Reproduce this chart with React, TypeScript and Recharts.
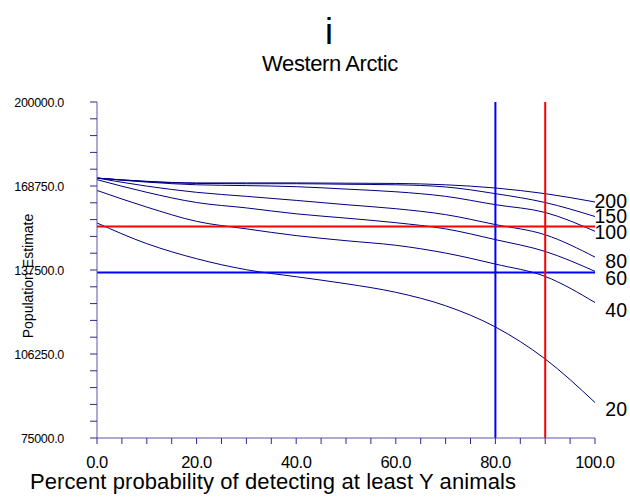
import React from 'react';
import { LineChart, Line, XAxis, YAxis, ReferenceLine, LabelList } from 'recharts';

const probability = [0, 10, 20, 30, 40, 50, 60, 70, 80, 90, 100];

const y20 = [155000, 147300, 141700, 137600, 135000, 132400, 129200, 124200, 116300, 104400, 88200];
const y40 = [167100, 160900, 155600, 152800, 150300, 148400, 146700, 143800, 139700, 135100, 125400];
const y60 = [171100, 166400, 162600, 160600, 158400, 156800, 155100, 152800, 148800, 144400, 137000];
const y80 = [171700, 168700, 166400, 164900, 163400, 161800, 160300, 158100, 154400, 150600, 142300];
const y100 = [171700, 170200, 169200, 168900, 168500, 167600, 166600, 164900, 161800, 158900, 151900];
const y150 = [171700, 170400, 169700, 169600, 169600, 169400, 169200, 168400, 165900, 162600, 157400];
const y200 = [171700, 170500, 169900, 169900, 169900, 169800, 169700, 169200, 168000, 165900, 162800];

const seriesNames = ['20', '40', '60', '80', '100', '150', '200'];
const seriesValues = [y20, y40, y60, y80, y100, y150, y200];

const redLevel = 153700;
const blueLevel = 136600;
const blueProbability = 80;
const redProbability = 90;

const yTicks = [
  75000, 81250, 87500, 93750, 100000, 106250, 112500, 118750, 125000, 131250, 137500,
  143750, 150000, 156250, 162500, 168750, 175000, 181250, 187500, 193750, 200000,
];
const yLabelled = [75000, 106250, 137500, 168750, 200000];
const xTicks = [0, 5, 10, 15, 20, 25, 30, 35, 40, 45, 50, 55, 60, 65, 70, 75, 80, 85, 90, 95, 100];
const xLabelled = [0, 20, 40, 60, 80, 100];

// vertical nudge of each end label, px
const labelNudge: Record<string, number> = {
  '20': 6, '40': 7, '60': 7, '80': 4, '100': 1, '150': -1, '200': -1,
};

const data = probability.map((p, i) => {
  const row: Record<string, number> = { p };
  seriesNames.forEach((name, s) => {
    row[name] = seriesValues[s][i];
  });
  return row;
});

const FONT = '"Liberation Sans", Arial, sans-serif';
const AXIS = '#5656aa';
const NAVY = '#000080';

const YTick = (props: any) => {
  const { x, y, payload } = props;
  if (!yLabelled.includes(payload.value)) return null;
  return (
    <text x={x} y={y} dy={4.5} textAnchor="end" fontSize={12.5} fontFamily={FONT} fill="#000" letterSpacing={-0.3}>
      {payload.value.toFixed(1)}
    </text>
  );
};

const XTick = (props: any) => {
  const { x, y, payload } = props;
  if (!xLabelled.includes(payload.value)) return null;
  return (
    <text x={x} y={y} dy={12} textAnchor="middle" fontSize={16.5} fontFamily={FONT} fill="#000" letterSpacing={-0.4}>
      {payload.value.toFixed(1)}
    </text>
  );
};

const endLabel = (name: string) => (props: any) => {
  const { y, index } = props;
  if (index !== probability.length - 1) return null;
  return (
    <text x={627} y={y + labelNudge[name]} dy={7} textAnchor="end" fontSize={19.5} fontFamily={FONT} fill="#000">
      {name}
    </text>
  );
};

export default function App() {
  return (
    <div style={{ position: 'absolute', left: 0, top: 0, width: 630, height: 504, background: '#fff' }}>
      <LineChart width={630} height={504} data={data} margin={{ top: 102, right: 35, bottom: 0, left: 0 }}>
        <XAxis
          dataKey="p"
          type="number"
          domain={[0, 100]}
          ticks={xTicks}
          interval={0}
          height={66}
          tickSize={6}
          tickMargin={12}
          stroke={AXIS}
          tickLine={{ stroke: '#2a2a90' }}
          tick={<XTick />}
        />
        <YAxis
          type="number"
          domain={[75000, 200000]}
          ticks={yTicks}
          interval={0}
          width={97}
          tickSize={7}
          tickMargin={26}
          stroke={AXIS}
          tickLine={{ stroke: '#2a2a90' }}
          tick={<YTick />}
        />
        {seriesNames.map((name) => (
          <Line
            key={name}
            dataKey={name}
            type="monotone"
            stroke={NAVY}
            strokeWidth={1}
            dot={false}
            isAnimationActive={false}
          >
            <LabelList dataKey={name} content={endLabel(name)} />
          </Line>
        ))}
        <ReferenceLine y={redLevel} stroke="#ff0000" strokeWidth={2} />
        <ReferenceLine y={blueLevel} stroke="#0000ff" strokeWidth={2} />
        <ReferenceLine x={blueProbability} stroke="#0000ff" strokeWidth={2} />
        <ReferenceLine x={redProbability} stroke="#ff0000" strokeWidth={2} />
      </LineChart>
      <svg width={630} height={504} style={{ position: 'absolute', left: 0, top: 0, pointerEvents: 'none' }}>
        <text x={329} y={44} textAnchor="middle" fontSize={36} fontFamily={FONT} fill="#000">i</text>
        <text x={330} y={71} textAnchor="middle" fontSize={22} fontFamily={FONT} fill="#000" letterSpacing={-0.4}>
          Western Arctic
        </text>
        <text x={273} y={489} textAnchor="middle" fontSize={22} fontFamily={FONT} fill="#000" letterSpacing={0.1}>
          Percent probability of detecting at least Y animals
        </text>
        <text
          x={0}
          y={0}
          transform="translate(33, 276) rotate(-90)"
          textAnchor="middle"
          fontSize={14}
          fontFamily={FONT}
          fill="#000"
        >
          Population Estimate
        </text>
      </svg>
    </div>
  );
}
